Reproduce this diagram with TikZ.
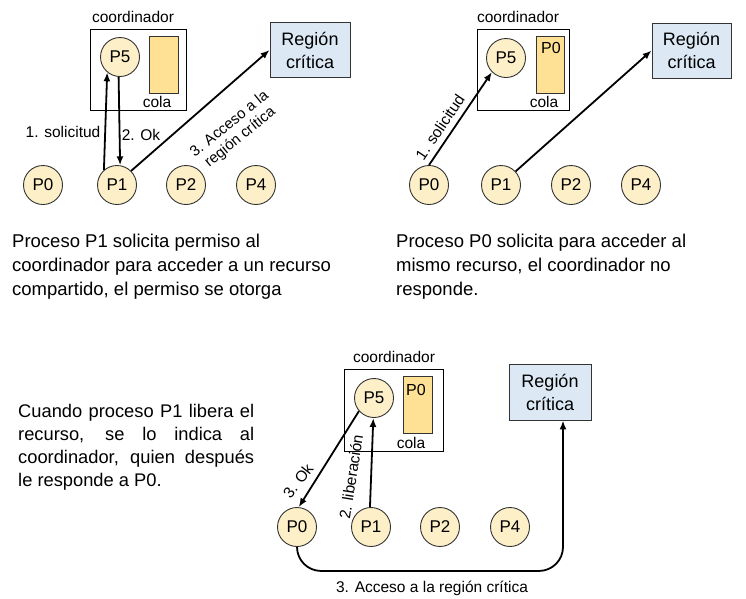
\documentclass[tikz,border=0pt]{standalone}
\usepackage{fontspec}
\setmainfont{Liberation Sans}
\usetikzlibrary{arrows.meta}
\definecolor{procfill}{HTML}{FDF0C9}
\definecolor{colafill}{HTML}{FFE196}
\definecolor{regfill}{HTML}{DCE9F5}
\definecolor{edgec}{HTML}{333333}
\begin{document}
\begin{tikzpicture}[x=1pt,y=-1pt,
 proc/.style={circle,draw=edgec,line width=0.9pt,fill=procfill,minimum size=39pt,inner sep=0pt,font=\fontsize{17}{20}\selectfont},
 coordbox/.style={draw=black,line width=0.9pt,minimum width=96pt,minimum height=81pt,inner sep=0pt},
 colabox/.style={draw=edgec,line width=0.9pt,fill=colafill,minimum width=29pt,minimum height=57pt,inner sep=0pt},
 regbox/.style={draw=edgec,line width=0.9pt,fill=regfill,minimum width=80pt,minimum height=55pt,inner sep=0pt,align=center,font=\fontsize{18}{23}\selectfont},
 lbl/.style={inner sep=0pt,font=\fontsize{15.5}{17}\selectfont},
 qlbl/.style={inner sep=0pt,font=\fontsize{16}{18}\selectfont},
 body/.style={inner sep=0pt,anchor=north west,font=\fontsize{18.5}{24}\selectfont,align=left},
 arr/.style={line width=1.8pt,-{Latex[length=9pt,width=7pt]}},
]
\path[use as bounding box] (0,0) rectangle (746,598);

% ---------- Panel 1 ----------
\node[lbl] (c1) at (133,17) {coordinador};
\node[coordbox] (b1) at (138,69.5) {};
\node[colabox] (q1) at (163.5,64.5) {};
\node[lbl] (cl1) at (157,102) {cola};
\node[proc] (p5a) at (120,57) {P5};
\node[regbox] (r1) at (310,50) {Región\\crítica};
\node[proc] (a0) at (43,185) {P0};
\node[proc] (a1) at (117,185) {P1};
\node[proc] (a2) at (186,185) {P2};
\node[proc] (a4) at (256,185) {P4};
\draw[arr] (a1.131) -- (p5a.230);
\draw[arr] (p5a.266) -- (a1.81);
\draw[arr] (a1.45) -- (r1.west);
\node[lbl] (l1a) at (63,132) {1. solicitud};
\node[lbl] (l1b) at (141,135) {2. Ok};
\node[lbl,align=center,rotate=39,font=\fontsize{15}{17}\selectfont] (l1c) at (235,131) {3. Acceso a la\\región crítica};

\node[body] (t1) at (12,233.5) {Proceso P1 solicita permiso al\\coordinador para acceder a un recurso\\compartido, el permiso se otorga};

% ---------- Panel 2 ----------
\node[lbl] (c2) at (518,17) {coordinador};
\node[coordbox,minimum width=92pt] (b2) at (523,69.5) {};
\node[colabox,minimum width=28pt] (q2) at (550,64.5) {};
\node[qlbl] (qp2) at (551,48) {P0};
\node[lbl] (cl2) at (544,102) {cola};
\node[proc] (p5b) at (506,58) {P5};
\node[regbox,minimum width=79pt] (r2) at (691.5,50.5) {Región\\crítica};
\node[proc] (b0) at (429,185) {P0};
\node[proc] (bb1) at (501,185) {P1};
\node[proc] (bb2) at (571,185) {P2};
\node[proc] (bb4) at (641,185) {P4};
\draw[arr] (b0.90) -- (p5b.225);
\draw[arr] (bb1.43) -- (r2.west);
\node[lbl,rotate=56] (l2a) at (440,127) {1. solicitud};

\node[body] (t2) at (396,233.5) {Proceso P0 solicita para acceder al\\mismo recurso, el coordinador no\\responde.};

% ---------- Panel 3 ----------
\node[lbl] (c3) at (394,357) {coordinador};
\node[coordbox,minimum width=99pt,minimum height=82pt] (b3) at (393.5,410) {};
\node[colabox] (q3) at (417.5,404.5) {};
\node[qlbl] (qp3) at (416,390) {P0};
\node[lbl] (cl3) at (411,443) {cola};
\node[proc] (p5c) at (374,398) {P5};
\node[regbox,minimum width=82pt,minimum height=56pt] (r3) at (550,392) {Región\\crítica};
\node[proc] (d0) at (297,527) {P0};
\node[proc] (d1) at (371,527) {P1};
\node[proc] (d2) at (440,527) {P2};
\node[proc] (d4) at (510,527) {P4};
\draw[arr] (p5c.221) -- (d0.85);
\draw[arr] (d1.93) -- (p5c.268);
\draw[arr,rounded corners=24pt] (d0.south) -- ++(0,24) -| ([xshift=13pt]r3.south);
\node[lbl,rotate=52] (l3a) at (298,481) {3. Ok};
\node[lbl,rotate=81] (l3b) at (351,477) {2. liberación};
\node[lbl] (l3c) at (432,588) {3. Acceso a la región crítica};

\node[body,text width=236pt,align=justify,font=\fontsize{18.3}{23}\selectfont] (t3) at (18,404.5)
 {\tolerance=9999 Cuando proceso P1 libera el\linebreak recurso, se lo indica al\linebreak coordinador, quien después\linebreak le responde a P0.};
\end{tikzpicture}
\end{document}
